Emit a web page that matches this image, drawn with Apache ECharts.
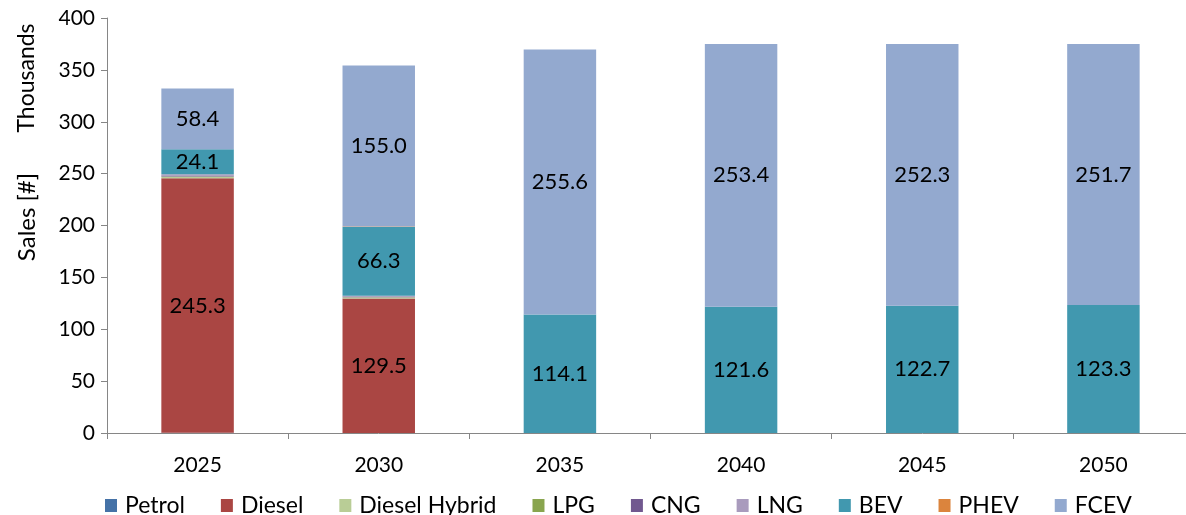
<!DOCTYPE html>
<html>
<head>
<meta charset="utf-8">
<script src="https://cdn.jsdelivr.net/npm/echarts@6/dist/echarts.min.js"></script>
<style>
  html, body { margin: 0; padding: 0; background: #fff; overflow: hidden; }
  #chart { width: 1200px; height: 515px; }
</style>
</head>
<body>
<div id="chart"></div>
<script>
// Vehicle sales by powertrain, thousands of units
const years = ['2025', '2030', '2035', '2040', '2045', '2050'];
const petrol       = [0.2, 0.1, 0, 0, 0, 0];
const diesel       = [245.3, 129.5, 0, 0, 0, 0];
const dieselHybrid = [1.5, 1.0, 0, 0, 0, 0];
const lpg          = [0.3, 0.2, 0, 0, 0, 0];
const cng          = [1.0, 0.7, 0, 0, 0, 0];
const lng          = [1.2, 0.8, 0, 0, 0, 0];
const bev          = [24.1, 66.3, 114.1, 121.6, 122.7, 123.3];
const phev         = [0, 0.5, 0, 0, 0, 0];
const fcev         = [58.4, 155.0, 255.6, 253.4, 252.3, 251.7];
const yTicks = [0, 50, 100, 150, 200, 250, 300, 350, 400];

const FONT = 'Lato, "Open Sans", sans-serif';

const seriesDefs = [
  ['Petrol', petrol, '#4572A7', false],
  ['Diesel', diesel, '#AA4643', true],
  ['Diesel Hybrid', dieselHybrid, '#B9CD96', false],
  ['LPG', lpg, '#89A54E', false],
  ['CNG', cng, '#71588F', false],
  ['LNG', lng, '#A99BBD', false],
  ['BEV', bev, '#4198AF', true],
  ['PHEV', phev, '#DB843D', false],
  ['FCEV', fcev, '#93A9CF', true]
];

const series = seriesDefs.map(([name, data, color, showLabel]) => ({
  name: name,
  type: 'bar',
  stack: 'total',
  barWidth: '40%',
  data: data,
  itemStyle: { color: color },
  label: {
    show: showLabel,
    position: 'inside',
    color: '#000',
    fontFamily: FONT,
    fontSize: 22,
    formatter: p => (p.value > 5 ? p.value.toFixed(1) : '')
  },
  emphasis: { disabled: true }
}));

const chart = echarts.init(document.getElementById('chart'), null, { renderer: 'canvas' });
chart.setOption({
  animation: false,
  textStyle: { fontFamily: FONT },
  grid: { left: 107, width: 1087, top: 18, height: 415, containLabel: false },
  legend: {
    top: 489,
    left: 100,
    itemWidth: 12,
    itemHeight: 13,
    itemGap: 36,
    icon: 'rect',
    textStyle: { fontFamily: FONT, fontSize: 23, color: '#000', padding: [0, 0, 0, 3] },
    data: seriesDefs.map(s => s[0])
  },
  xAxis: {
    type: 'category',
    data: years,
    axisLine: { lineStyle: { color: '#868686' } },
    axisTick: { show: true, length: 6, lineStyle: { color: '#868686' } },
    axisLabel: { color: '#000', fontSize: 21, fontFamily: FONT, margin: 22 }
  },
  yAxis: {
    type: 'value',
    min: yTicks[0],
    max: yTicks[yTicks.length - 1],
    interval: yTicks[1] - yTicks[0],
    splitLine: { show: false },
    axisLine: { show: true, lineStyle: { color: '#868686' } },
    axisTick: { show: true, inside: false, length: 6, lineStyle: { color: '#868686' } },
    axisLabel: { color: '#000', fontSize: 21, fontFamily: FONT, margin: 12 }
  },
  graphic: [
    {
      type: 'text',
      x: 27, y: 78,
      rotation: Math.PI / 2,
      style: { text: 'Thousands', fill: '#000', fontSize: 23, fontFamily: FONT,
               textAlign: 'center', textVerticalAlign: 'middle' }
    },
    {
      type: 'text',
      x: 27, y: 217,
      rotation: Math.PI / 2,
      style: { text: 'Sales [#]', fill: '#000', fontSize: 24, fontFamily: FONT,
               textAlign: 'center', textVerticalAlign: 'middle' }
    }
  ],
  series: series
});
</script>
</body>
</html>
